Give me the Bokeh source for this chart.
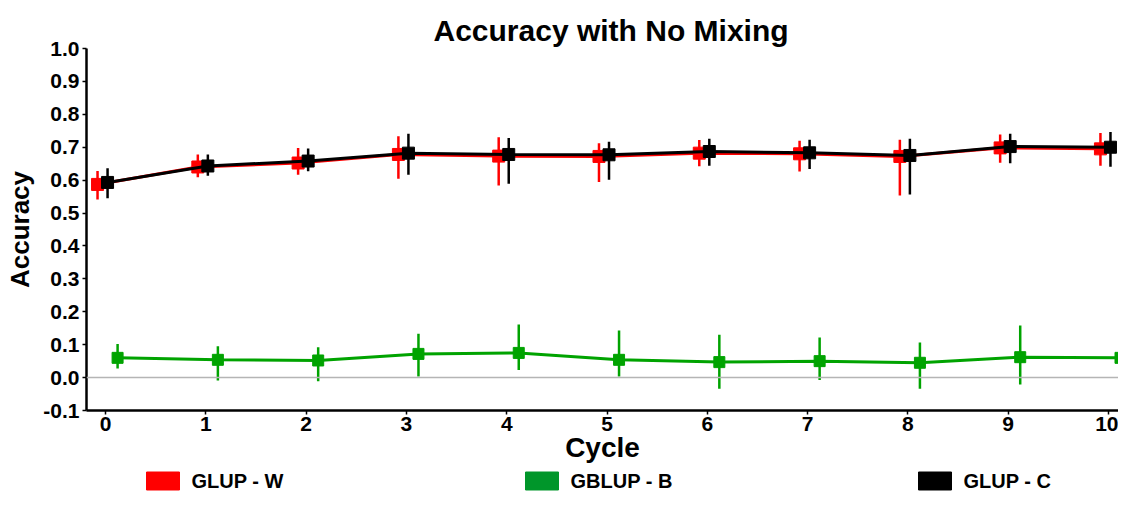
from bokeh.plotting import figure
from bokeh.layouts import column
from bokeh.models import (ColumnDataSource, Range1d, Span, FixedTicker, NumeralTickFormatter)
from bokeh.core.properties import value
from bokeh.transform import dodge
from bokeh.embed import file_html
from bokeh.resources import INLINE

# ---------------- data ----------------
cycles = [0, 1, 2, 3, 4, 5, 6, 7, 8, 9, 10]

glup_w_mean = [0.587, 0.640, 0.652, 0.678, 0.673, 0.672, 0.682, 0.680, 0.672, 0.698, 0.695]
glup_w_lo   = [0.541, 0.609, 0.616, 0.604, 0.584, 0.594, 0.642, 0.626, 0.553, 0.653, 0.644]
glup_w_hi   = [0.628, 0.678, 0.698, 0.733, 0.730, 0.712, 0.722, 0.720, 0.723, 0.739, 0.743]

glup_c_mean = [0.593, 0.643, 0.658, 0.682, 0.678, 0.677, 0.687, 0.683, 0.675, 0.702, 0.700]
glup_c_lo   = [0.545, 0.613, 0.627, 0.616, 0.589, 0.601, 0.644, 0.634, 0.556, 0.651, 0.641]
glup_c_hi   = [0.636, 0.678, 0.696, 0.741, 0.728, 0.717, 0.726, 0.723, 0.726, 0.741, 0.746]

gblup_b_mean = [0.060, 0.054, 0.052, 0.072, 0.075, 0.054, 0.047, 0.050, 0.045, 0.062, 0.060]
gblup_b_lo   = [0.028, -0.009, -0.011, 0.003, 0.023, 0.003, -0.034, -0.007, -0.034, -0.021, 0.005]
gblup_b_hi   = [0.102, 0.095, 0.092, 0.133, 0.161, 0.143, 0.130, 0.122, 0.107, 0.158, 0.113]

y_ticks = [-0.1, 0.0, 0.1, 0.2, 0.3, 0.4, 0.5, 0.6, 0.7, 0.8, 0.9, 1.0]

series_names = ["GLUP - W", "GBLUP - B", "GLUP - C"]
# -------------------------------------

FONT = "Liberation Sans"
RED, GREEN, BLACK = "#FF0000", "#00A300", "#000000"
LEGEND_COLORS = [RED, "#00962A", BLACK]
LEFT = 86

p = figure(width=1118, height=468,
           x_range=Range1d(-0.19, 10.1), y_range=Range1d(-0.1, 1.0),
           output_backend="svg", toolbar_location=None,
           min_border_left=LEFT, min_border_right=0,
           min_border_top=48, min_border_bottom=58)

p.title.text = "Accuracy with No Mixing"
p.title.align = "left"
p.title.offset = 347
p.title.text_font = FONT
p.title.text_font_size = "30px"
p.title.text_font_style = "bold"
p.title.text_color = "black"
p.title.standoff = 4

p.xgrid.visible = False
p.ygrid.visible = False
p.outline_line_color = None

p.add_layout(Span(location=0, dimension="width", line_color="#b5b5b5", line_width=1.5))

def draw(mean, lo, hi, color, offset, msize):
    src = ColumnDataSource(dict(cycle=cycles, mean=mean, lo=lo, hi=hi))
    xd = dodge("cycle", offset)
    p.line(x=xd, y="mean", source=src, line_color=color, line_width=3)
    p.segment(x0=xd, x1=xd, y0="lo", y1="hi", source=src, line_color=color, line_width=2.5)
    p.scatter(x=xd, y="mean", source=src, marker="square", size=msize,
              fill_color=color, line_color=color)

draw(glup_w_mean, glup_w_lo, glup_w_hi, RED, -0.08, 12)
draw(glup_c_mean, glup_c_lo, glup_c_hi, BLACK, 0.02, 12)
draw(gblup_b_mean, gblup_b_lo, gblup_b_hi, GREEN, 0.12, 11)

# axes
p.xaxis.ticker = FixedTicker(ticks=cycles)
p.yaxis.ticker = FixedTicker(ticks=y_ticks)
p.yaxis.formatter = NumeralTickFormatter(format="0.0")
p.xaxis.axis_label = "Cycle"
p.yaxis.axis_label = "Accuracy"
for ax in (p.xaxis[0], p.yaxis[0]):
    ax.axis_line_width = 2.5
    ax.axis_line_color = "black"
    ax.major_tick_line_width = 1.5
    ax.major_tick_line_color = "black"
    ax.major_tick_out = 4
    ax.major_tick_in = 0
    ax.minor_tick_out = 0
    ax.minor_tick_in = 0
    ax.major_label_text_font = FONT
    ax.major_label_text_font_size = "21px"
    ax.major_label_text_font_style = "bold"
    ax.major_label_text_color = "black"
    ax.axis_label_text_font = FONT
    ax.axis_label_text_font_style = "bold"
    ax.axis_label_text_color = "black"
p.xaxis.major_label_standoff = 2
p.yaxis.major_label_standoff = 3
p.xaxis.axis_label_text_font_size = "28px"
p.yaxis.axis_label_text_font_size = "26px"
p.xaxis.axis_label_standoff = -2
p.yaxis.axis_label_standoff = 5

# legend strip (separate figure; x in pixels from the plot frame's left edge)
FRAME_W = 1118 - LEFT
LEG_H = 23
leg = figure(width=1118, height=LEG_H,
             x_range=Range1d(0, FRAME_W), y_range=Range1d(0, LEG_H),
             x_axis_type=None, y_axis_type=None,
             output_backend="svg", toolbar_location=None,
             min_border_left=LEFT, min_border_right=0,
             min_border_top=0, min_border_bottom=0)
leg.outline_line_color = None
leg.xgrid.visible = False
leg.ygrid.visible = False

box_left = [60, 439, 832]   # layout positions of the legend keys (px)
key_w, key_h, standoff = 33, 18, 12
lsrc = ColumnDataSource(dict(
    xc=[b + key_w / 2 for b in box_left],
    xt=[b + key_w + standoff for b in box_left],
    y=[LEG_H / 2 - 1] * len(box_left),
    label=series_names,
    color=LEGEND_COLORS,
))
leg.rect(x="xc", y="y", width=key_w, height=key_h, source=lsrc,
         fill_color="color", line_color="color")
leg.text(x="xt", y="y", text="label", source=lsrc, text_baseline="middle",
         text_align="left", text_font=value(FONT), text_font_size=value("20px"),
         text_font_style="bold", text_color="black")

layout = column(p, leg, spacing=0)
open("out.html", "w").write(file_html(layout, INLINE))
